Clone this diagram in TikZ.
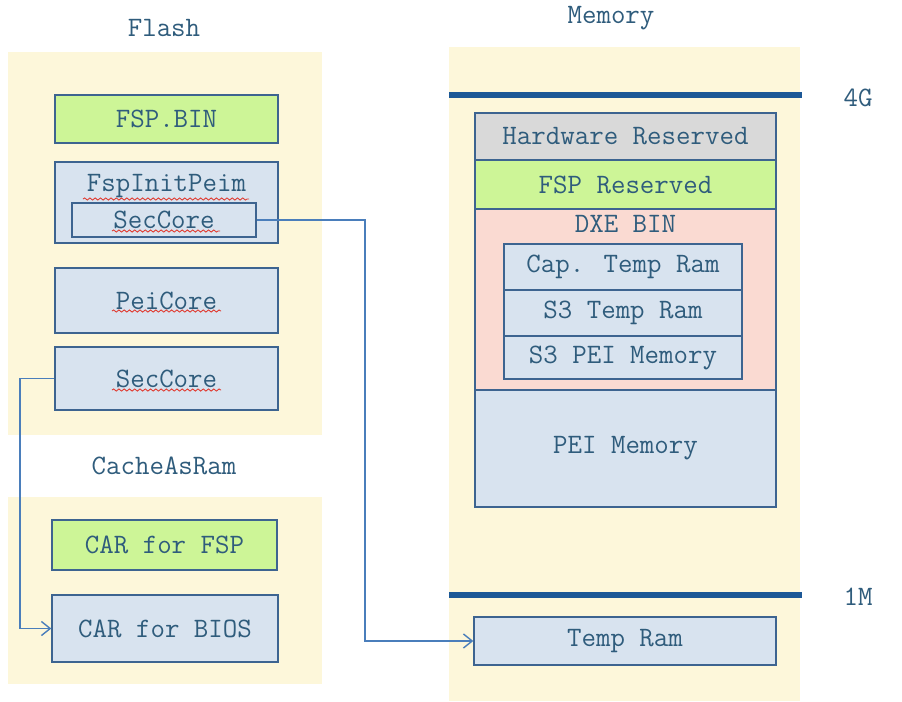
\documentclass[tikz,border=0pt]{standalone}
\usepackage{fontspec}
\usetikzlibrary{arrows.meta,decorations.pathmorphing}
\definecolor{bgyellow}{HTML}{FDF7DA}
\definecolor{fspgreen}{HTML}{CDF597}
\definecolor{boxblue}{HTML}{D8E3EF}
\definecolor{hwgray}{HTML}{D9D9D9}
\definecolor{dxepink}{HTML}{FADAD2}
\definecolor{edgeblue}{HTML}{3D6490}
\definecolor{txtblue}{HTML}{2F5C7C}
\definecolor{barblue}{HTML}{1C5896}
\definecolor{linkblue}{HTML}{4A7EBB}
\definecolor{spellred}{HTML}{E03A30}

\begin{document}
\begin{tikzpicture}[x=0.02cm,y=-0.02cm,
    every node/.style={font=\ttfamily\fontsize{16}{18}\selectfont,text=txtblue},
    region/.style={fill=bgyellow,draw=none},
    blk/.style={draw=edgeblue,line width=0.8pt,fill=boxblue,inner sep=0pt},
    grn/.style={blk,fill=fspgreen},
    bar/.style={barblue,line width=3.4pt},
    link/.style={linkblue,line width=0.8pt,-{Straight Barb[length=5pt,width=8pt]}},
    squiggle/.style={spellred,line width=0.5pt,decorate,
        decoration={snake,amplitude=0.6pt,segment length=3pt}}]
    \useasboundingbox (0,0) rectangle (902,701);
    \fill[white] (0,0) rectangle (902,701);
    \fill[region] (8,52) rectangle (322,435);
    \fill[region] (8,497) rectangle (322,684);
    \fill[region] (449,47) rectangle (800,701);

    \node (flash) at (164,28) {Flash};
    \node (car) at (164,466) {CacheAsRam};
    \node (memory) at (611,18) {Memory};

    \node[grn,minimum width=4.46cm,minimum height=0.96cm] (fspbin) at (166.5,119) {FSP.BIN};
    \node[blk,minimum width=4.46cm,minimum height=1.62cm] (initpeim) at (166.5,202.5) {};
    \node (initname) at (166.5,186) {FspInitPeim};
    \node[blk,minimum width=3.68cm,minimum height=0.68cm] (seccorea) at (164,220) {SecCore};
    \node[blk,minimum width=4.46cm,minimum height=1.3cm] (peicore) at (166.5,300.5) {PeiCore};
    \node[blk,minimum width=4.46cm,minimum height=1.26cm] (seccoreb) at (166.5,378.5) {SecCore};
    \draw[squiggle] (83,199) -- (249,199);
    \draw[squiggle] (112,231) -- (220,231);
    \draw[squiggle] (112,311) -- (221,311);
    \draw[squiggle] (112,390) -- (221,390);

    \node[grn,minimum width=4.5cm,minimum height=1cm] (carfsp) at (164.5,545) {CAR for FSP};
    \node[blk,minimum width=4.52cm,minimum height=1.34cm] (carbios) at (165,628.5) {CAR for BIOS};

    \draw[bar] (449,95) -- (802,95);
    \draw[bar] (449,595) -- (802,595);
    \node (top) at (858,98) {4G};
    \node (low) at (858,597) {1M};

    \node[blk,fill=hwgray,minimum width=6.02cm,minimum height=0.94cm] (hwres) at (625.5,136.5) {Hardware Reserved};
    \node[grn,minimum width=6.02cm,minimum height=0.98cm] (fspres) at (625.5,184.5) {FSP Reserved};
    \node[blk,fill=dxepink,minimum width=6.02cm,minimum height=3.62cm] (dxebin) at (625.5,299.5) {};
    \node (dxename) at (625.5,224) {DXE BIN};
    \node[blk,minimum width=4.76cm,minimum height=0.92cm] (captemp) at (623,267) {Cap. Temp Ram};
    \node[blk,minimum width=4.76cm,minimum height=0.92cm] (s3temp) at (623,313) {S3 Temp Ram};
    \node[blk,minimum width=4.76cm,minimum height=0.86cm] (s3pei) at (623,357.5) {S3 PEI Memory};
    \node[blk,minimum width=6.02cm,minimum height=2.34cm] (peimem) at (625.5,448.5) {PEI Memory};
    \node[blk,minimum width=6.04cm,minimum height=0.96cm] (tempram) at (625,641) {Temp Ram};

    \coordinate (j1) at (365,220);
    \coordinate (j2) at (20,378.5);
    \draw[link] (seccorea.east) -- (j1) |- (tempram.west);
    \draw[link] (seccoreb.west) -- (j2) |- (carbios.west);
\end{tikzpicture}
\end{document}
